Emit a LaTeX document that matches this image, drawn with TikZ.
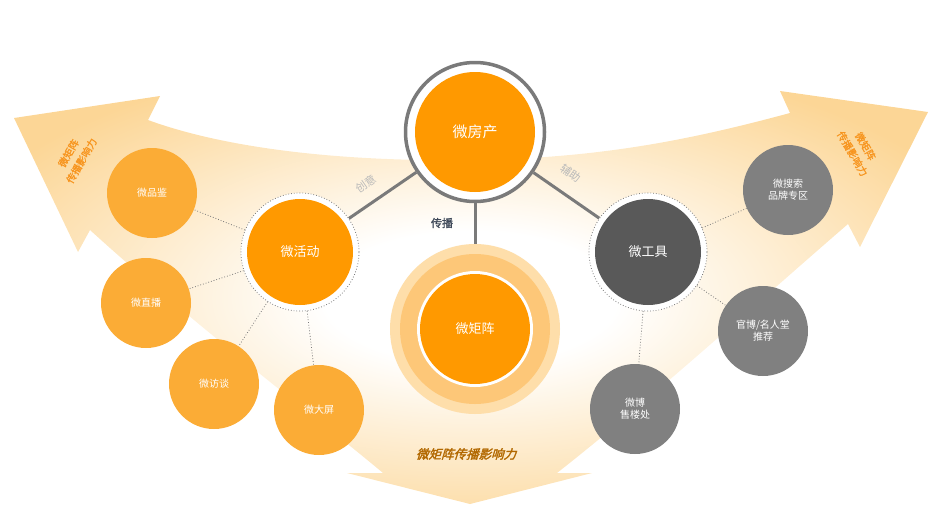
\documentclass[tikz,border=0pt]{standalone}
\usepackage{fontspec}
\newfontfamily\cjk{Noto Sans CJK SC}
\newfontfamily\cjkbold[FakeBold=1.2]{Noto Sans CJK SC}
\newfontfamily\cjkslant[FakeSlant=0.3,FakeBold=2]{Noto Sans CJK SC}
\usetikzlibrary{positioning}
\definecolor{mainorange}{RGB}{255,153,0}
\definecolor{lightorange}{RGB}{251,172,54}
\definecolor{toolgray}{RGB}{89,89,89}
\definecolor{subgray}{RGB}{128,128,128}
\definecolor{ringgray}{RGB}{122,122,122}
\definecolor{bandorange}{RGB}{252,214,150}
\definecolor{arrowtext}{RGB}{247,148,29}
\definecolor{haloouter}{RGB}{254,222,170}
\definecolor{halomid}{RGB}{253,199,120}
\definecolor{bottomtext}{RGB}{178,104,0}
\definecolor{spreadtext}{RGB}{62,72,88}
\definecolor{notegray}{RGB}{185,185,185}
\pgfdeclareradialshading{bandfade}{\pgfpointorigin}{color(0bp)=(white); color(8bp)=(white); color(30bp)=(bandorange); color(50bp)=(bandorange)}

\begin{document}
\begin{tikzpicture}[x=1pt, y=-1pt,
  hub/.style={circle, fill=mainorange, text=white, inner sep=0pt, minimum size=106pt, font=\cjk\fontsize{13}{15}\selectfont},
  hubring/.style={circle, draw=ringgray, dotted, line width=0.8pt, fill=white, minimum size=118pt, inner sep=0pt},
  leaf/.style={circle, fill=lightorange, minimum size=90pt, inner sep=0pt, text=white, align=center, font=\cjk\fontsize{10}{12}\selectfont},
  toolleaf/.style={leaf, fill=subgray},
  link/.style={draw=ringgray, dotted, line width=0.8pt},
  spoke/.style={draw=ringgray, line width=3pt},
  arrowlabel/.style={text=arrowtext, align=center, inner sep=1pt, font=\cjkbold\fontsize{10}{15}\selectfont},
  note/.style={text=notegray, inner sep=1pt, font=\cjk\fontsize{11}{13}\selectfont}
]
  \useasboundingbox (0,0) rectangle (940,504);

  \shade[shading=bandfade] (148,120) -- (160,96) -- (14,118) -- (78,252) -- (90,230)
    .. controls (200,330) and (320,420) .. (383,473) -- (347,473) -- (470,504) -- (592,473) -- (557,473)
    .. controls (650,400) and (760,300) .. (848,224) -- (860,247) -- (928,112) -- (780,91) -- (790,113)
    .. controls (690,140) and (600,158) .. (475,160) .. controls (350,162) and (230,150) .. (148,120) -- cycle;

  \node[arrowlabel, rotate=60] (leftlbl) at (75,157) {微矩阵\\传播影响力};
  \node[arrowlabel, rotate=-60] (rightlbl) at (859,150) {微矩阵\\传播影响力};
  \node[text=bottomtext, font=\cjkslant\fontsize{12.5}{14}\selectfont] (bottomlbl) at (466,454) {微矩阵传播影响力};

  \node[circle, draw=ringgray, line width=3.5pt, fill=white, minimum size=139pt, inner sep=0pt] (fcring) at (475,132) {};
  \node[hub, minimum size=120pt, font=\cjk\fontsize{15}{17}\selectfont] (fc) at (fcring) {微房产};

  \node[circle, fill=haloouter, minimum size=170pt, inner sep=0pt] (mzhalo) at (475,329) {};
  \node[circle, fill=halomid, minimum size=150pt, inner sep=0pt] (mzmid) at (mzhalo) {};
  \node[circle, fill=white, minimum size=116pt, inner sep=0pt] (mzwhite) at (mzhalo) {};
  \node[hub, minimum size=110pt] (mz) at (mzhalo) {微矩阵};

  \node[hubring] (hdring) at (300,252) {};
  \node[hub] (hd) at (hdring) {微活动};
  \node[hubring] (gjring) at (648,252) {};
  \node[hub, fill=toolgray] (gj) at (gjring) {微工具};

  \draw[spoke] (fcring) -- (hdring);
  \draw[spoke] (fcring) -- (gjring);
  \draw[spoke] (fcring) -- (mzhalo);

  \node[note, rotate=35] (cy) at (366,184) {创意};
  \node[note, rotate=-35] (fz) at (571,173) {辅助};
  \node[text=spreadtext, font=\cjkbold\fontsize{11}{13}\selectfont] (cb) at (442,223) {传播};

  \foreach \nm/\px/\py/\txt in {pj/152/193/微品鉴, zb/146/303/微直播, ft/214/384/微访谈, dp/319/410/微大屏} {
    \node[leaf] (\nm) at (\px,\py) {\txt};
    \draw[link] (hdring) -- (\nm);
  }

  \foreach \nm/\px/\py/\txt in {ss/788/190/{微搜索\\品牌专区}, gb/763/331/{官博/名人堂\\推荐}, wb/635/409/{微博\\售楼处}} {
    \node[toolleaf] (\nm) at (\px,\py) {\txt};
    \draw[link] (gjring) -- (\nm);
  }
\end{tikzpicture}
\end{document}
